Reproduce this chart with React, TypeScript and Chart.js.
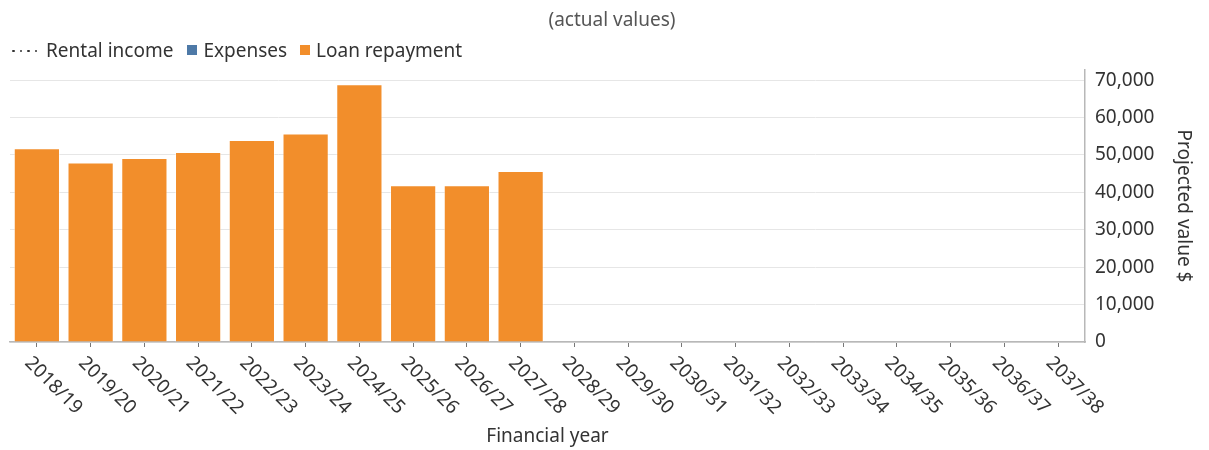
import React, { useEffect, useRef } from "react";
import { Chart, registerables } from "chart.js";

Chart.register(...registerables);

const years: string[] = [
  "2018/19", "2019/20", "2020/21", "2021/22", "2022/23", "2023/24", "2024/25",
  "2025/26", "2026/27", "2027/28", "2028/29", "2029/30", "2030/31", "2031/32",
  "2032/33", "2033/34", "2034/35", "2035/36", "2036/37", "2037/38",
];
const rentalIncome: (number | null)[] = [];
const expenses: (number | null)[] = [];
const loanRepayment: number[] = [51800, 48000, 49200, 50800, 54000, 55700, 68900, 41900, 41900, 45700];
const yTickValues: number[] = [0, 10000, 20000, 30000, 40000, 50000, 60000, 70000];
const yAxisMax = 72700;

const FONT = "'Noto Sans', 'Open Sans', sans-serif";
const FS = 19;
const TEXT = "#333333";
const ORANGE = "#f28e2b";
const BLUE = "#4e79a7";

const xLabelPlugin = {
  id: "xLabelsClockwise",
  afterDraw(chart: any) {
    const ctx = chart.ctx;
    const xs = chart.scales.x;
    ctx.save();
    ctx.font = `${FS}px ${FONT}`;
    ctx.fillStyle = TEXT;
    ctx.textAlign = "left";
    ctx.textBaseline = "middle";
    years.forEach((label, i) => {
      const x = xs.getPixelForValue(i);
      ctx.save();
      ctx.translate(x - 9, xs.top + 18);
      ctx.rotate(Math.PI / 4);
      ctx.fillText(label, 0, 0);
      ctx.restore();
    });
    ctx.restore();
  },
};

export default function App() {
  const ref = useRef<HTMLCanvasElement | null>(null);

  useEffect(() => {
    if (!ref.current) return;
    const chart = new Chart(ref.current, {
      type: "bar",
      data: {
        labels: years,
        datasets: [
          {
            type: "line" as const,
            label: "Rental income",
            data: rentalIncome,
            borderColor: TEXT,
            borderDash: [2, 5],
            borderWidth: 2,
            pointRadius: 0,
            fill: false,
          } as any,
          {
            label: "Expenses",
            data: expenses,
            backgroundColor: BLUE,
            borderColor: "rgba(255,255,255,0.45)",
            borderWidth: 1,
          },
          {
            label: "Loan repayment",
            data: loanRepayment,
            backgroundColor: ORANGE,
            borderColor: "rgba(255,255,255,0.45)",
            borderWidth: 1,
          },
        ],
      },
      options: {
        animation: false,
        responsive: false,
        maintainAspectRatio: false,
        layout: { padding: { top: 70, left: 10, right: 0, bottom: 0 } },
        plugins: {
          legend: { display: false },
          title: { display: false },
          tooltip: { enabled: false },
        },
        datasets: {
          bar: { categoryPercentage: 1, barPercentage: 0.86 },
        } as any,
        scales: {
          x: {
            stacked: true,
            grid: {
              offset: false,
              drawOnChartArea: false,
              drawTicks: true,
              tickLength: 5,
              color: "#777",
              tickColor: "#777",
            },
            border: { color: "#b8b8b8", width: 1.5 },
            ticks: {
              display: false,
              autoSkip: false,
            },
            title: {
              display: true,
              text: "Financial year",
              color: TEXT,
              font: { family: FONT, size: FS },
              padding: { top: 0, bottom: 2 },
            },
            afterFit: (s: any) => {
              s.height = 108;
            },
          },
          y: {
            position: "right",
            stacked: true,
            min: 0,
            max: yAxisMax,
            grid: { color: "#e6e6e6", drawTicks: false },
            border: { color: "#b8b8b8", width: 1.5 },
            afterBuildTicks: (s: any) => {
              s.ticks = yTickValues.map((v) => ({ value: v }));
            },
            ticks: {
              padding: 10,
              color: TEXT,
              font: { family: FONT, size: FS },
              callback: (v: any) => Number(v).toLocaleString("en-US"),
            },
            title: {
              display: true,
              text: "Projected value $",
              color: TEXT,
              font: { family: FONT, size: FS },
              padding: { top: 14, bottom: 0 },
            },
            afterFit: (s: any) => {
              s.width = 124;
            },
          },
        },
      } as any,
      plugins: [xLabelPlugin],
    });
    return () => chart.destroy();
  }, []);

  const legendText: React.CSSProperties = {
    fontFamily: FONT,
    fontSize: FS,
    color: TEXT,
    lineHeight: "24px",
    whiteSpace: "nowrap",
  };
  const square = (c: string): React.CSSProperties => ({
    display: "inline-block",
    width: 10,
    height: 10,
    background: c,
    marginRight: 6,
  });
  const dot: React.CSSProperties = {
    display: "inline-block",
    width: 2.5,
    height: 2.5,
    borderRadius: 1.25,
    background: TEXT,
    marginRight: 5,
  };

  return (
    <div style={{ position: "absolute", left: 0, top: 0, width: 1209, height: 450, overflow: "hidden", background: "#fff" }}>
      <canvas ref={ref} width={1209} height={450} style={{ position: "absolute", left: 0, top: 0, width: 1209, height: 450 }} />
      <div
        style={{
          position: "absolute",
          left: 612,
          top: 7,
          transform: "translateX(-50%)",
          fontFamily: FONT,
          fontSize: FS,
          color: "#555",
          lineHeight: "24px",
          whiteSpace: "nowrap",
        }}
      >
        (actual values)
      </div>
      <div style={{ position: "absolute", left: 12, top: 38, display: "flex", alignItems: "center", ...legendText }}>
        <span style={{ display: "inline-flex", alignItems: "center", marginRight: 9, marginTop: 2 }}>
          <span style={dot} />
          <span style={dot} />
          <span style={dot} />
          <span style={{ ...dot, marginRight: 0 }} />
        </span>
        <span style={{ marginRight: 14 }}>Rental income</span>
        <span style={square(BLUE)} />
        <span style={{ marginRight: 13 }}>Expenses</span>
        <span style={square(ORANGE)} />
        <span>Loan repayment</span>
      </div>
    </div>
  );
}
